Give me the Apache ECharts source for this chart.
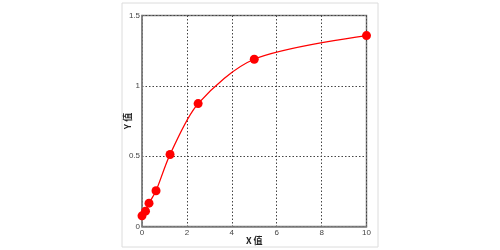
<!DOCTYPE html>
<html><head><meta charset="utf-8">
<script src="https://cdn.jsdelivr.net/npm/echarts@6/dist/echarts.min.js"></script>
<style>html,body{margin:0;padding:0;background:#fff}#c{width:500px;height:250px}</style>
</head><body><div id="c"></div>
<script>
var xValues = [0, 0.156, 0.3125, 0.625, 1.25, 2.5, 5, 10];
var yValues = [0.076, 0.109, 0.166, 0.254, 0.512, 0.874, 1.189, 1.357];
var xTicks = [0, 2, 4, 6, 8, 10];
var yTicks = [0, 0.5, 1, 1.5];
var xName = 'X 值';
var yName = 'Y 值';

var pts = xValues.map(function(x, i){ return [x, yValues[i]]; });
var chart = echarts.init(document.getElementById('c'), null, {renderer: 'canvas'});
var labelFont = {color: '#444', fontSize: 8, fontFamily: 'Liberation Sans, Arial, sans-serif'};
chart.setOption({
  animation: false,
  graphic: [{type: 'rect', shape: {x: 122, y: 3, width: 256, height: 244}, style: {fill: 'none', stroke: '#dcdcdc', lineWidth: 1}, z: -1}],
  grid: {left: 142, right: 133.5, top: 15.5, bottom: 23.5, outerBoundsMode: 'none', containLabel: false, show: true, borderColor: '#808080', borderWidth: 1.5, backgroundColor: 'transparent'},
  xAxis: {
    type: 'value', min: 0, max: 10, interval: 2,
    name: xName, nameLocation: 'middle', nameGap: 10, nameMoveOverlap: false,
    nameTextStyle: {color: '#222', fontSize: 9, fontWeight: 'bold', fontFamily: 'Noto Sans CJK SC, sans-serif'},
    axisLine: {show: true, lineStyle: {color: '#808080', width: 1.5}},
    axisTick: {show: false},
    axisLabel: Object.assign({margin: 2, formatter: function(v){ return xTicks.indexOf(v) >= 0 ? String(v) : ''; }}, labelFont),
    splitLine: {show: true, lineStyle: {color: '#444', type: [1.5, 2], width: 1}}
  },
  yAxis: {
    type: 'value', min: 0, max: 1.5, interval: 0.5,
    name: yName, nameLocation: 'middle', nameGap: 10, nameRotate: 90, nameMoveOverlap: false,
    nameTextStyle: {color: '#222', fontSize: 9, fontWeight: 'bold', fontFamily: 'Noto Sans CJK SC, sans-serif'},
    axisLine: {show: true, lineStyle: {color: '#808080', width: 1.5}},
    axisTick: {show: false},
    axisLabel: Object.assign({margin: 2, formatter: function(v){ return yTicks.indexOf(v) >= 0 ? String(v) : ''; }}, labelFont),
    splitLine: {show: true, lineStyle: {color: '#444', type: [1.5, 2], width: 1}}
  },
  series: [{
    type: 'line', data: pts, smooth: 0.3,
    symbol: 'circle', symbolSize: 9,
    lineStyle: {color: '#ff0000', width: 1.3},
    itemStyle: {color: '#ff0000'},
    clip: false
  }]
});
</script></body></html>
